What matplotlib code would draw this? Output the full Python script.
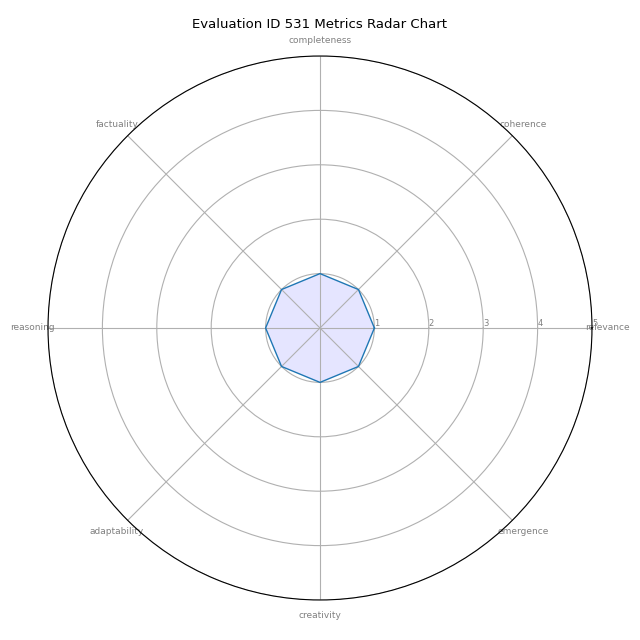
import numpy as np
import matplotlib
matplotlib.use('Agg')
import matplotlib.pyplot as plt

categories = ['relevance', 'coherence', 'completeness', 'factuality',
              'reasoning', 'adaptability', 'creativity', 'emergence']
values = [1.0, 1.0, 1.0, 1.0, 1.0, 1.0, 1.0, 1.0]
rticks = [1, 2, 3, 4, 5]

n = len(categories)
angles = [i / float(n) * 2 * np.pi for i in range(n)]
vals = values + values[:1]
angs = angles + angles[:1]

fig = plt.figure(figsize=(6.4, 6.4), dpi=100)
ax = fig.add_axes([0.075, 0.0625, 0.85, 0.85], polar=True)

ax.set_xticks(angles)
ax.set_xticklabels(categories, color='grey', size=6.5)
ax.tick_params(axis='x', pad=0.5)
ax.set_rlabel_position(0)
ax.set_yticks(rticks)
ax.set_yticklabels([str(t) for t in rticks], color='grey', size=6)
ax.set_ylim(0, 5)

ax.plot(angs, vals, linewidth=1, linestyle='solid', color='tab:blue')
ax.fill(angs, vals, 'b', alpha=0.1)

ax.set_title('Evaluation ID 531 Metrics Radar Chart', size=9.5, y=1.036)

plt.savefig('out.png', dpi=100)
